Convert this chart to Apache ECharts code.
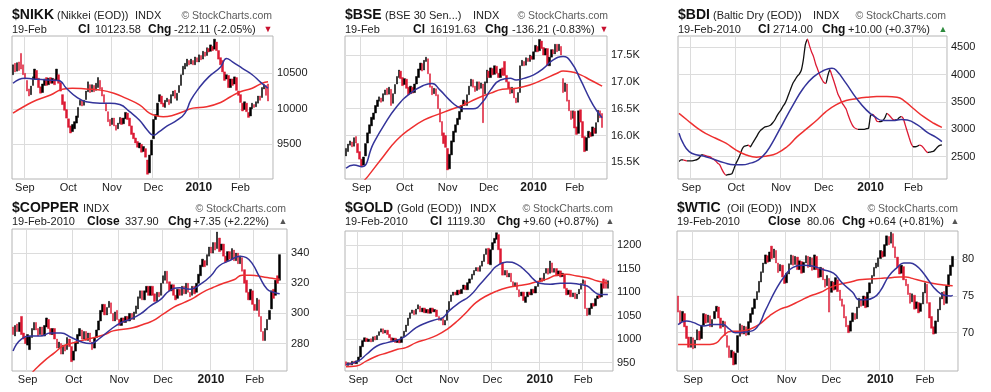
<!DOCTYPE html>
<html><head><meta charset="utf-8">
<script src="https://cdn.jsdelivr.net/npm/echarts@6/dist/echarts.min.js"></script>
<style>html,body{margin:0;padding:0;background:#fff}#c{width:991px;height:392px}</style>
</head><body><div id="c"></div>
<script>
// ---------- DATA ----------
// month tick labels on every x axis
const xTickLabels = ['Sep', 'Oct', 'Nov', 'Dec', '2010', 'Feb'];

// Bars: each is [from, to] of the day's range; rising (from<to) drawn black, falling drawn red.
const nikkBars = [
[10480,10620],[10640,10520],[10530,10650],[10660,10540],[10780,10560],[10620,10480],[10500,10420],[10400,10250],[10280,10180],[10200,10320],
[10330,10450],[10420,10560],[10540,10420],[10430,10300],[10310,10220],[10230,10350],[10330,10420],[10440,10330],[10340,10430],[10440,10360],
[10360,10430],[10420,10340],[10400,10560],[10480,10360],[10370,10250],[10200,10060],[10100,9980],[9990,9870],[9860,9740],[9760,9660],
[9680,9780],[9720,9820],[9800,9900],[9880,10020],[10050,10120],[10110,10040],[10050,10120],[10130,10250],[10240,10380],[10340,10230],
[10240,10340],[10330,10240],[10260,10360],[10300,10440],[10400,10280],[10300,10180],[10200,10090],[10080,9970],[9960,9820],[9850,9760],
[9780,9870],[9870,9760],[9770,9700],[9720,9800],[9790,9880],[9870,9780],[9790,9870],[9860,9950],[9940,9850],[9870,9760],
[9760,9640],[9660,9580],[9590,9520],[9540,9460],[9450,9520],[9500,9390],[9400,9470],[9440,9320],[9280,9080],[9100,9350],
[9350,9560],[9580,9850],[9850,9920],[9900,10080],[10100,10200],[10180,10070],[10080,10030],[10020,10120],[10100,10150],[10130,10060],
[10080,10200],[10180,10250],[10260,10150],[10120,10220],[10230,10330],[10330,10480],[10480,10600],[10560,10640],[10600,10700],[10680,10620],
[10630,10700],[10680,10620],[10620,10730],[10720,10660],[10660,10760],[10750,10690],[10700,10810],[10800,10740],[10750,10860],[10850,10800],
[10810,10900],[10880,10820],[10840,10980],[10940,10820],[10820,10700],[10720,10620],[10680,10520],[10520,10400],[10420,10480],[10470,10300],
[10300,10420],[10420,10330],[10350,10450],[10440,10260],[10250,10190],[10200,10090],[10080,9970],[9990,10100],[10080,9960],[9950,9880],
[9900,10020],[10000,10080],[10060,10020],[10030,10100],[10080,10180],[10180,10120],[10160,10300],[10280,10340],[10330,10190],[10350,10110]
];
// moving averages: [trading-day index, value]
const nikkMA20 = [[0,10360],[6,10430],[10,10420],[17,10406],[23,10400],[27,10290],[32,10170],[37,10100],[44,10080],[49,10080],[54,10060],[59,9960],[64,9840],[68,9700],[71,9630],[74,9680],[78,9760],[83,9840],[87,9940],[90,10125],[94,10290],[99,10450],[105,10590],[108,10710],[111,10660],[116,10570],[121,10480],[125,10380],[129,10290]];
const nikkMA50 = [[0,9940],[6,10040],[12,10125],[19,10195],[25,10275],[30,10290],[37,10280],[44,10265],[51,10220],[57,10150],[64,10055],[69,9940],[73,9900],[76,9890],[81,9910],[86,9960],[91,10010],[98,10030],[105,10090],[110,10170],[115,10240],[121,10290],[126,10360],[129,10380]];
const nikkTicks = [9500, 10000, 10500];
const nikkTickLabels = ['9500', '10000', '10500'];

const bseBars = [
[15620,15760],[15700,15840],[15820,15900],[15880,15790],[15800,15960],[15980,15860],[15850,15680],[15700,15560],[15560,15420],[15450,15600],
[15620,15850],[15860,16050],[16040,16200],[16180,16340],[16300,16420],[16420,16560],[16540,16660],[16640,16720],[16700,16620],[16640,16780],
[16760,16850],[16880,16760],[16770,16900],[16860,16560],[16600,16780],[16780,16950],[16960,17100],[17080,17220],[17200,17060],[17080,16930],
[16950,17060],[17050,16880],[16900,16760],[16780,16920],[16900,16790],[16800,16960],[16960,17100],[17080,17240],[17220,17350],[17340,17200],
[17220,17400],[17380,17460],[17430,17150],[17150,16900],[16920,16760],[16780,16880],[16870,16740],[16760,16500],[16500,16250],[16260,16000],
[16050,15850],[16000,15780],[15760,15360],[15380,15650],[15640,15900],[15880,16080],[16060,16200],[16200,16320],[16300,16450],[16440,16560],
[16560,16660],[16640,16560],[16560,16760],[16760,16920],[16920,17050],[17040,16900],[16920,16820],[16840,17000],[17000,16860],[16880,16980],
[16960,16240],[16780,17000],[16980,17220],[17200,17080],[17080,17260],[17250,17130],[17140,17300],[17290,17160],[17160,17080],[17080,17240],
[17260,17120],[17380,17120],[17120,17000],[17000,16880],[16900,16780],[16790,16900],[16880,16700],[16700,16610],[16620,16800],[16800,17300],
[17300,17400],[17380,17300],[17310,17450],[17440,17380],[17380,17500],[17480,17420],[17420,17560],[17560,17680],[17660,17560],[17580,17790],
[17760,17620],[17640,17500],[17500,17620],[17620,17300],[17300,17460],[17460,17600],[17600,17520],[17520,17700],[17700,17560],[17580,17700],
[17660,17500],[17060,16800],[16820,16980],[16960,16640],[16660,16460],[16460,16300],[16320,16460],[16450,16140],[16160,16020],[16040,16460],
[16480,16250],[16260,15960],[15980,15700],[15720,15960],[15960,16080],[16060,15980],[15990,16160],[16140,16040],[16040,16240],[16250,16470],
[16460,16330],[16410,16150]
];
const bseMA20 = [[0,15390],[4,15450],[8,15420],[14,15850],[19,16165],[26,16540],[33,16790],[40,16940],[44,16970],[48,16850],[53,16660],[57,16540],[60,16500],[65,16500],[70,16630],[74,16850],[79,17035],[84,17065],[87,17035],[91,17065],[96,17130],[101,17250],[106,17410],[111,17470],[115,17375],[120,17035],[125,16660],[128,16475],[131,16330]];
const bseMA50 = [[9,15150],[11,15230],[19,15605],[26,15915],[33,16130],[40,16290],[46,16380],[53,16475],[60,16570],[67,16690],[74,16790],[80,16860],[87,16880],[94,16940],[101,17045],[108,17160],[111,17200],[115,17190],[120,17130],[125,17035],[130,16940],[131,16920]];
const bseTicks = [15500, 16000, 16500, 17000, 17500];
const bseTickLabels = ['15.5K', '16.0K', '16.5K', '17.0K', '17.5K'];

// Baltic Dry: daily closing values (line)
const bdiClose = [
2410,2440,2440,2430,2420,2420,2420,2425,2435,2450,
2480,2530,2530,2520,2505,2500,2475,2450,2420,2380,
2350,2270,2200,2160,2170,2175,2190,2280,2380,2450,
2540,2640,2690,2700,2710,2680,2740,2800,2860,2930,
2980,3010,3040,3050,3060,3080,3120,3170,3240,3300,
3350,3420,3475,3560,3660,3760,3850,3910,3970,4010,
4080,4270,4550,4650,4530,4420,4330,4200,4100,4000,
3920,3860,3840,3980,4090,3990,3880,3760,3640,3570,
3480,3430,3370,3260,3160,3080,3030,3010,3000,3000,
3000,3000,3010,3020,3250,3270,3230,3150,3140,3140,
3160,3210,3290,3260,3220,3180,3170,3175,3210,3230,
3200,3080,2960,2840,2730,2680,2680,2690,2710,2700,
2660,2610,2575,2580,2590,2600,2640,2680,2704,2714
];
const bdiMA20 = [[0,2930],[2,2745],[5,2590],[9,2530],[12,2510],[17,2450],[22,2390],[27,2350],[31,2350],[35,2380],[39,2440],[43,2590],[47,2835],[51,3110],[56,3445],[61,3750],[66,3960],[71,4075],[75,4115],[77,4085],[82,3840],[87,3570],[92,3350],[96,3230],[100,3160],[105,3160],[109,3180],[112,3170],[117,3080],[122,2940],[126,2855],[129,2775]];
const bdiMA50 = [[0,3290],[4,3170],[9,3020],[13,2925],[18,2835],[23,2745],[28,2620],[33,2530],[38,2490],[43,2510],[48,2560],[53,2680],[58,2865],[63,3020],[68,3180],[72,3320],[77,3445],[82,3525],[87,3560],[92,3585],[97,3600],[102,3600],[107,3585],[110,3535],[115,3380],[120,3230],[125,3110],[129,3035]];
const bdiTicks = [2500, 3000, 3500, 4000, 4500];
const bdiTickLabels = ['2500', '3000', '3500', '4000', '4500'];

const copperBars = [
[291,286],[285,292],[293,288],[288,294],[298,286],[287,283],[284,280],[279,286],[276,285],[284,290],
[289,294],[294,289],[290,285],[286,291],[291,285],[285,292],[291,297],[296,290],[290,286],[286,290],
[290,283],[283,277],[277,281],[280,273],[273,279],[279,275],[276,284],[283,278],[278,268],[269,275],
[275,281],[280,286],[285,290],[289,283],[283,288],[288,282],[282,287],[287,281],[281,276],[277,284],
[284,289],[289,295],[295,302],[301,306],[306,299],[299,304],[304,308],[307,300],[300,295],[295,301],
[302,296],[296,292],[292,297],[297,294],[294,298],[298,295],[295,300],[300,296],[296,301],[300,305],
[303,311],[310,315],[315,309],[309,315],[314,318],[318,312],[312,318],[318,312],[313,308],[308,314],
[314,311],[312,320],[320,325],[322,328],[328,320],[321,315],[315,319],[319,312],[312,309],[310,316],
[316,312],[312,318],[318,313],[313,320],[320,314],[314,311],[312,318],[318,313],[314,320],[320,326],
[325,332],[331,336],[335,331],[332,339],[338,344],[344,340],[340,347],[347,342],[343,354],[350,341],
[342,346],[346,338],[338,334],[335,341],[341,336],[336,343],[342,335],[335,340],[340,333],[333,338],
[337,328],[329,320],[322,314],[314,309],[309,316],[315,306],[306,302],[302,310],[309,298],[298,288],
[288,282],[282,290],[289,296],[296,302],[303,315],[316,310],[312,322],[325,320],[322,339]
];
const copperMA20 = [[0,275],[4,283],[9,285],[13,285],[18,287],[23,287],[28,284],[33,281],[37,280],[42,284],[47,289.5],[52,294],[56,296],[61,299.5],[66,305],[71,309.5],[75,315],[80,317],[85,316],[90,319.4],[95,325],[99,331.6],[104,335],[109,338],[112,337],[115,332.7],[118,325],[122,316],[125,314],[128,313]];
const copperMA50 = [[9,260.5],[10,262],[15,268.5],[20,274],[24,278.4],[29,280.6],[34,282.4],[39,284],[44,286],[48,288.4],[53,289.5],[58,290.6],[63,293],[67,295],[72,299.5],[77,304],[82,307.2],[87,310.5],[91,314],[96,317.2],[101,320],[106,322.3],[110,325.4],[114,325.4],[117,325],[122,323.8],[125,323.2],[128,322.7]];
const copperTicks = [280, 300, 320, 340];
const copperTickLabels = ['280', '300', '320', '340'];

const goldBars = [
[952,944],[944,950],[950,945],[945,953],[953,948],[948,954],[953,962],[962,985],[984,997],[995,1003],
[1002,995],[995,1000],[1001,994],[995,1005],[1006,998],[999,1008],[1008,1016],[1015,1022],[1022,1012],[1013,1019],
[1019,1010],[1010,1003],[1003,997],[997,1002],[1002,993],[993,999],[999,992],[993,1005],[1005,1017],[1016,1030],
[1029,1045],[1044,1056],[1055,1062],[1061,1052],[1053,1064],[1064,1073],[1070,1058],[1058,1066],[1066,1056],[1056,1063],
[1063,1055],[1055,1066],[1066,1058],[1058,1063],[1062,1048],[1048,1040],[1040,1045],[1044,1030],[1030,1040],[1040,1062],
[1062,1080],[1080,1094],[1093,1100],[1100,1094],[1094,1104],[1104,1096],[1097,1106],[1106,1115],[1114,1105],[1105,1120],
[1119,1128],[1127,1138],[1136,1146],[1145,1152],[1152,1144],[1144,1156],[1155,1166],[1165,1180],[1180,1192],[1193,1160],
[1158,1190],[1190,1205],[1204,1214],[1212,1226],[1222,1190],[1192,1160],[1162,1136],[1136,1146],[1146,1132],[1132,1140],
[1140,1122],[1122,1112],[1113,1120],[1120,1105],[1105,1090],[1092,1100],[1100,1082],[1078,1090],[1090,1100],[1100,1094],
[1094,1106],[1106,1098],[1098,1112],[1112,1122],[1122,1130],[1130,1122],[1124,1140],[1140,1150],[1150,1138],[1140,1166],
[1162,1142],[1142,1150],[1150,1134],[1135,1145],[1145,1132],[1133,1140],[1138,1108],[1108,1094],[1095,1104],[1104,1090],
[1090,1098],[1098,1086],[1086,1096],[1096,1106],[1106,1118],[1118,1126],[1124,1065],[1066,1050],[1052,1066],[1065,1076],
[1076,1070],[1071,1086],[1086,1092],[1094,1088],[1090,1118],[1128,1108],[1126,1108],[1108,1124]
];
const goldMA20 = [[0,946],[6,954],[10,968],[15,985.5],[20,992.6],[25,998],[29,1007],[34,1024.4],[39,1035],[44,1042],[47,1045.7],[50,1060],[55,1077.5],[60,1091.7],[65,1116.5],[70,1141],[73,1155],[78,1164],[83,1159],[88,1141],[91,1127],[94,1118.6],[99,1116.5],[104,1118.6],[109,1118.6],[113,1116.5],[117,1113],[120,1102],[123,1095],[127,1095]];
const goldMA50 = [[0,941.6],[5,943],[10,954],[15,964.2],[20,971],[25,978.4],[29,982],[34,992.6],[39,999.6],[44,1008],[49,1021],[54,1038.6],[59,1060],[63,1077.5],[68,1091.7],[73,1102],[78,1109.4],[83,1113],[88,1116.5],[92,1121.4],[97,1127],[102,1135.6],[107,1137.7],[112,1134],[117,1130.6],[122,1123.5],[127,1118.6]];
const goldTicks = [950, 1000, 1050, 1100, 1150, 1200];
const goldTickLabels = ['950', '1000', '1050', '1100', '1150', '1200'];

const wticBars = [
[75.0,72.8],[73.0,71.2],[71.5,72.9],[72.6,70.8],[70.9,69.2],[69.4,68.0],[68.0,69.4],[69.3,67.8],[67.9,69.0],[69.0,70.4],
[70.2,69.0],[69.2,71.0],[71.0,72.6],[72.5,71.3],[71.4,72.4],[72.3,70.8],[70.8,71.8],[71.9,72.9],[72.9,73.6],[73.5,72.0],
[72.0,70.6],[70.8,71.6],[71.5,69.6],[69.6,68.0],[68.2,66.6],[66.6,67.6],[67.4,65.6],[65.7,67.2],[67.3,69.6],[69.5,71.2],
[71.0,69.8],[69.8,70.9],[70.8,69.6],[69.7,71.5],[71.4,72.6],[72.5,73.4],[73.3,74.6],[74.5,75.6],[75.5,77.0],[76.9,78.3],
[78.2,79.5],[79.4,80.6],[80.5,79.6],[79.7,81.0],[81.8,80.1],[80.2,81.4],[81.2,79.5],[79.5,78.2],[78.4,79.3],[79.2,77.6],
[77.6,76.7],[76.8,78.1],[78.0,79.4],[79.3,80.6],[80.5,79.2],[79.3,80.4],[80.3,78.6],[78.6,79.8],[79.7,78.1],[78.2,79.6],
[79.5,80.5],[80.4,78.9],[79.0,80.3],[80.2,78.5],[78.6,80.6],[80.4,78.6],[78.7,77.5],[77.6,78.9],[78.8,77.2],[77.3,76.2],
[76.4,77.8],[77.4,72.8],[75.5,77.0],[76.9,75.8],[75.9,77.5],[77.2,75.6],[75.8,74.4],[74.6,73.6],[73.8,72.0],[72.2,70.8],
[71.0,70.0],[70.2,71.6],[71.5,72.7],[72.6,71.8],[71.9,73.5],[73.4,74.7],[74.6,73.6],[73.7,75.0],[74.9,73.4],[73.5,75.5],
[75.4,76.8],[76.7,77.8],[77.7,78.9],[78.8,79.5],[79.0,80.2],[80.1,81.2],[81.1,80.3],[80.4,82.0],[81.9,83.2],[83.1,82.0],
[82.2,83.7],[83.5,81.6],[81.7,80.2],[80.3,78.9],[79.1,78.0],[78.1,79.2],[79.0,77.2],[77.3,76.4],[76.6,75.2],[75.4,74.0],
[74.2,75.3],[75.1,73.2],[73.3,74.2],[74.1,72.7],[72.9,74.0],[73.9,75.5],[75.4,76.8],[76.6,74.0],[74.1,72.0],[72.2,70.6],
[70.8,69.8],[69.9,71.6],[71.5,73.2],[73.1,74.8],[74.6,75.5],[75.6,73.8],[74.0,76.4],[76.3,77.9],[77.8,79.2],[79.0,80.4]
];
const wticMA20 = [[0,71.1],[4,71.6],[7,71.4],[12,70.9],[16,71.1],[21,71.1],[24,70.5],[27,70],[32,70.1],[37,70.7],[41,73],[46,75.9],[50,77.7],[54,78.9],[59,79.2],[63,79.1],[68,78.6],[73,78.1],[77,76.8],[82,75.5],[85,74.5],[88,74.5],[92,74.8],[95,75.7],[99,77.7],[103,78.9],[106,79.5],[109,79.5],[112,79.1],[115,78.2],[118,77],[121,75.9],[125,75.1],[128,75],[129,75.1]];
const wticMA50 = [[0,68.4],[7,68.4],[15,68.4],[18,68.6],[21,69.5],[25,70.2],[29,70.2],[34,70.5],[38,71.1],[43,72.3],[48,73.2],[52,73.6],[57,74.3],[62,75],[67,75.5],[71,76.1],[76,76.6],[81,76.9],[85,77.2],[90,77.3],[95,77.4],[100,77.5],[104,77.6],[107,77.6],[110,77.4],[115,77],[120,76.7],[125,76.5],[129,76.4]];
const wticTicks = [70, 75, 80];
const wticTickLabels = ['70', '75', '80'];

// header texts
const headerTexts = [
  {sym:'$NIKK', name:'(Nikkei (EOD))', type:'INDX', date:'19-Feb', lastKey:'Cl', last:'10123.58', chg:'-212.11 (-2.05%)', dir:'down'},
  {sym:'$BSE', name:'(BSE 30 Sen...)', type:'INDX', date:'19-Feb', lastKey:'Cl', last:'16191.63', chg:'-136.21 (-0.83%)', dir:'down'},
  {sym:'$BDI', name:'(Baltic Dry (EOD))', type:'INDX', date:'19-Feb-2010', lastKey:'Cl', last:'2714.00', chg:'+10.00 (+0.37%)', dir:'up'},
  {sym:'$COPPER', name:'', type:'INDX', date:'19-Feb-2010', lastKey:'Close', last:'337.90', chg:'+7.35 (+2.22%)', dir:'up'},
  {sym:'$GOLD', name:'(Gold (EOD))', type:'INDX', date:'19-Feb-2010', lastKey:'Cl', last:'1119.30', chg:'+9.60 (+0.87%)', dir:'up'},
  {sym:'$WTIC', name:'(Oil (EOD))', type:'INDX', date:'19-Feb-2010', lastKey:'Close', last:'80.06', chg:'+0.64 (+0.81%)', dir:'up'}
];
const credit = '\u00a9 StockCharts.com';

// ---------- LAYOUT ----------
const FONT = '"Liberation Sans", Arial, sans-serif';
const C = {bar:'#000000', barDown:'#dc1a34', ma20:'#34349a', ma50:'#ee3030', grid:'#dcdcdc', border:'#b4b4b4', text:'#1a1a1a'};

const panels = [
  {grid:{left:12, top:36, width:261, height:143}, start:'2009-08-24', count:132, yMin:9013, yMax:11025, ticks:nikkTicks, tickLabels:nikkTickLabels, bars:nikkBars, ma20:nikkMA20, ma50:nikkMA50,
   hdr:{y1:15.5, y2:30, sym:12, name:57, type:135, credit:272, date:12, key:78, last:95, chgKey:148, chg:174, tri:268}},
  {grid:{left:345, top:36, width:262, height:143}, start:'2009-08-20', count:134, yMin:15190, yMax:17854, ticks:bseTicks, tickLabels:bseTickLabels, bars:bseBars, ma20:bseMA20, ma50:bseMA50,
   hdr:{y1:15.5, y2:30, sym:345, name:385, type:473, credit:608, date:345, key:413, last:430, chgKey:485, chg:512, tri:604}},
  {grid:{left:678, top:36, width:269, height:143}, start:'2009-08-24', count:132, yMin:2090, yMax:4707, ticks:bdiTicks, tickLabels:bdiTickLabels, line:bdiClose, ma20:bdiMA20, ma50:bdiMA50,
   hdr:{y1:15.5, y2:30, sym:678, name:713, type:813, credit:946, date:678, key:758, last:773, chgKey:822, chg:848, tri:943}},
  {grid:{left:12, top:229, width:275, height:142}, start:'2009-08-21', count:132, yMin:261.8, yMax:356, ticks:copperTicks, tickLabels:copperTickLabels, bars:copperBars, ma20:copperMA20, ma50:copperMA50,
   hdr:{y1:208.5, y2:222, sym:12, name:0, type:83, credit:286, date:12, key:87, last:125, chgKey:168, chg:193, tri:283}},
  {grid:{left:345, top:231, width:268, height:140}, start:'2009-08-24', count:130, yMin:932.4, yMax:1229.7, ticks:goldTicks, tickLabels:goldTickLabels, bars:goldBars, ma20:goldMA20, ma50:goldMA50,
   hdr:{y1:208.5, y2:222, sym:345, name:397, type:470, credit:613, date:345, key:430, last:447, chgKey:497, chg:523, tri:610}},
  {grid:{left:677, top:231, width:281, height:140}, start:'2009-08-21', count:132, yMin:64.77, yMax:83.86, ticks:wticTicks, tickLabels:wticTickLabels, bars:wticBars, ma20:wticMA20, ma50:wticMA50,
   hdr:{y1:208.5, y2:222, sym:677, name:727, type:790, credit:958, date:677, key:768, last:807, chgKey:842, chg:868, tri:955}}
];

function tradingDays(start, count) {
  const out = [];
  const d = new Date(start + 'T00:00:00Z');
  while (out.length < count) {
    const wd = d.getUTCDay();
    if (wd !== 0 && wd !== 6) out.push(d.toISOString().slice(0, 10));
    d.setUTCDate(d.getUTCDate() + 1);
  }
  return out;
}

const option = {animation:false, backgroundColor:'#fff', grid:[], xAxis:[], yAxis:[], series:[], graphic:[], visualMap:[]};

function txt(x, y, text, font, fill, align) {
  return {type:'text', x:x, y:y, silent:true,
    style:{text:text, font:font, fill:fill, align:align || 'left', verticalAlign:'middle', textAlign:align || 'left', textVerticalAlign:'middle'}};
}

panels.forEach(function (p, i) {
  const dates = tradingDays(p.start, p.count);
  const labelAt = {};
  let m = 0;
  for (let k = 1; k < dates.length; k++) {
    if (dates[k].slice(5, 7) !== dates[k - 1].slice(5, 7)) labelAt[k] = xTickLabels[m++];
  }
  const isTick = function (idx) { return labelAt[idx] !== undefined; };
  option.grid.push(Object.assign({show:true, borderColor:C.border, borderWidth:1, backgroundColor:'#fff'}, p.grid));
  option.xAxis.push({gridIndex:i, type:'category', data:dates, boundaryGap:true,
    axisLine:{show:false}, axisTick:{show:false},
    axisLabel:{interval:isTick, margin:3, color:C.text, fontSize:11, fontFamily:FONT,
      formatter:function (v, idx) { const s = labelAt[idx]; if (!s) return ''; return /^\d+$/.test(s) ? '{y|' + s + '}' : s; },
      rich:{y:{fontWeight:'bold', fontSize:12, fontFamily:FONT, color:C.text}}},
    splitLine:{show:true, interval:isTick, lineStyle:{color:C.grid, width:1}}});
  const lab = {};
  p.ticks.forEach(function (t, k) { lab[t] = p.tickLabels[k]; });
  option.yAxis.push({gridIndex:i, type:'value', position:'right', min:p.yMin, max:p.yMax,
    axisLine:{show:false}, axisTick:{show:false, customValues:p.ticks},
    axisLabel:{customValues:p.ticks, margin:4, color:C.text, fontSize:11, fontFamily:FONT,
      formatter:function (v) { return lab[v] !== undefined ? lab[v] : ''; }},
    splitLine:{show:true, lineStyle:{color:C.grid, width:1}}});

  if (p.bars) {
    option.series.push({type:'candlestick', xAxisIndex:i, yAxisIndex:i, silent:true, barWidth:2,
      data:p.bars.map(function (b) { return [b[0], b[1], Math.min(b[0], b[1]), Math.max(b[0], b[1])]; }),
      itemStyle:{color:C.bar, color0:C.barDown, borderColor:C.bar, borderColor0:C.barDown, borderWidth:0.5}});
  }
  if (p.line) {
    const pieces = [];
    for (let k = 0; k < p.line.length - 1; k++) {
      const col = p.line[k + 1] >= p.line[k] ? '#111111' : C.barDown;
      const last = pieces[pieces.length - 1];
      if (last && last.color === col) last.lte = k + 1;
      else pieces.push(k === 0 ? {gte:k, lte:k + 1, color:col} : {gt:k, lte:k + 1, color:col});
    }
    option.visualMap.push({type:'piecewise', show:false, dimension:0, seriesIndex:option.series.length, pieces:pieces});
    option.series.push({type:'line', xAxisIndex:i, yAxisIndex:i, silent:true, data:p.line, showSymbol:false, smooth:0.2, lineStyle:{width:1.3}});
  }
  option.series.push({type:'line', xAxisIndex:i, yAxisIndex:i, silent:true, data:p.ma50, smooth:0.5, showSymbol:false, lineStyle:{width:1.5, color:C.ma50}, itemStyle:{color:C.ma50}});
  option.series.push({type:'line', xAxisIndex:i, yAxisIndex:i, silent:true, data:p.ma20, smooth:0.5, showSymbol:false, lineStyle:{width:1.5, color:C.ma20}, itemStyle:{color:C.ma20}});

  const h = p.hdr, t = headerTexts[i];
  const g = option.graphic;
  g.push(txt(h.sym, h.y1, t.sym, 'bold 14px ' + FONT, '#111'));
  if (t.name) g.push(txt(h.name, h.y1 + 0.5, t.name, '11px ' + FONT, '#222'));
  g.push(txt(h.type, h.y1 + 0.5, t.type, '11px ' + FONT, '#222'));
  g.push(txt(h.credit, h.y1 + 0.5, credit, '10.5px ' + FONT, '#5a5a5a', 'right'));
  g.push(txt(h.date, h.y2, t.date, '11px ' + FONT, '#222'));
  g.push(txt(h.key, h.y2, t.lastKey, 'bold 12px ' + FONT, '#111'));
  g.push(txt(h.last, h.y2, t.last, '11px ' + FONT, '#222'));
  g.push(txt(h.chgKey, h.y2, 'Chg', 'bold 12px ' + FONT, '#111'));
  g.push(txt(h.chg, h.y2, t.chg, '11px ' + FONT, '#222'));
  g.push(txt(h.tri, h.y2, t.dir === 'down' ? '\u25BC' : '\u25B2', '9px ' + FONT, t.dir === 'down' ? '#c8102e' : (i === 2 ? '#2e8b3e' : '#555'), 'center'));
});

const chart = echarts.init(document.getElementById('c'), null, {renderer:'canvas'});
chart.setOption(option);
</script>
</body></html>
